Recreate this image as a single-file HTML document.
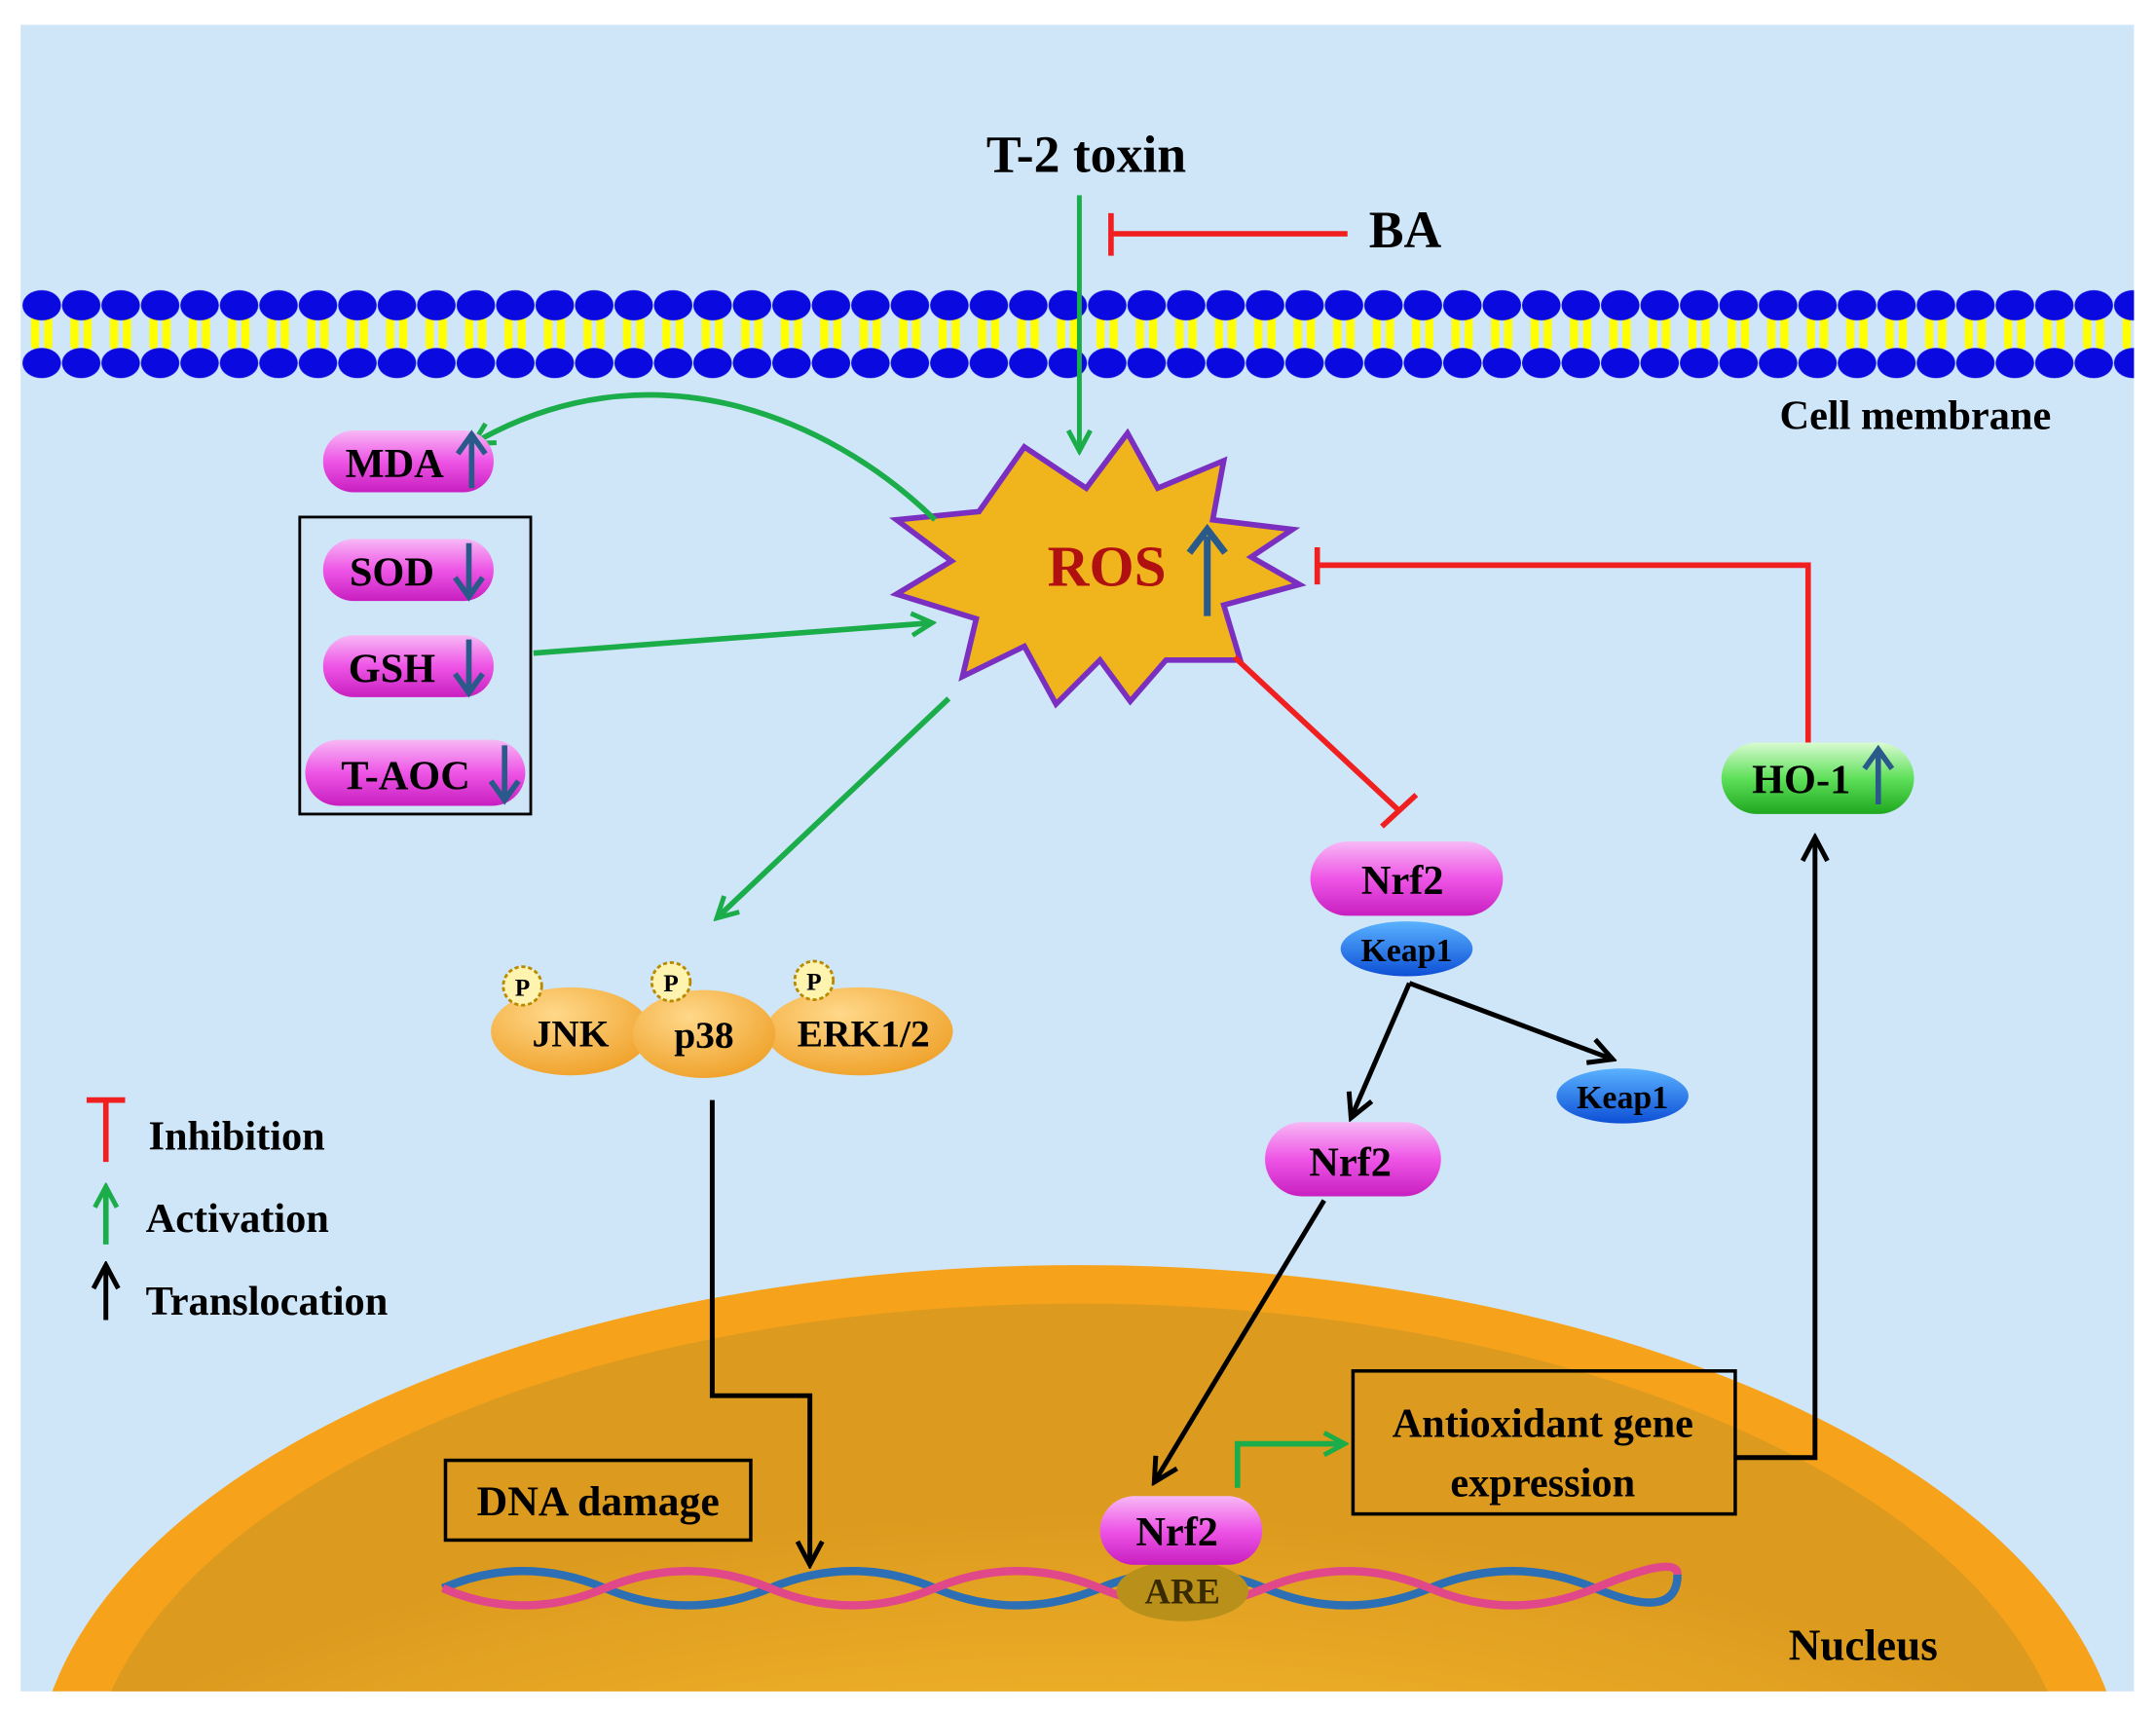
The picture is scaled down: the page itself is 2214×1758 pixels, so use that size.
<!DOCTYPE html>
<html><head><meta charset="utf-8"><style>
html,body{margin:0;padding:0;background:#fff;overflow:hidden;width:2214px;height:1758px;}
svg{display:block}
text{font-family:"Liberation Serif",serif;font-weight:bold;}
</style></head><body>
<svg width="2214" height="1758" viewBox="0 0 1568 1245" xmlns="http://www.w3.org/2000/svg">
<defs>
<linearGradient id="pk" x1="0" y1="0" x2="0" y2="1"><stop offset="0" stop-color="#f7b8f5"/><stop offset="0.5" stop-color="#ee55e6"/><stop offset="1" stop-color="#c81fc0"/></linearGradient>
<linearGradient id="gr" x1="0" y1="0" x2="0" y2="1"><stop offset="0" stop-color="#d8fbd0"/><stop offset="0.5" stop-color="#5fe05a"/><stop offset="1" stop-color="#1fa81f"/></linearGradient>
<linearGradient id="bl" x1="0" y1="0" x2="0" y2="1"><stop offset="0" stop-color="#5ab2ff"/><stop offset="1" stop-color="#0d4fd6"/></linearGradient>
<radialGradient id="or" cx="0.4" cy="0.3" r="0.8"><stop offset="0" stop-color="#ffd88a"/><stop offset="1" stop-color="#ee9d22"/></radialGradient>
<radialGradient id="nuc" cx="0.5" cy="0.9" r="0.7"><stop offset="0" stop-color="#ffd23c"/><stop offset="0.55" stop-color="#f5b82c"/><stop offset="1" stop-color="#dc9a1e"/></radialGradient>
<marker id="ag" markerWidth="20" markerHeight="20" refX="16" refY="10" orient="auto" markerUnits="userSpaceOnUse" viewBox="0 0 20 20"><path d="M2,2 L17,10 L2,18" fill="none" stroke="#1aad4a" stroke-width="3.5"/></marker>
<marker id="ak" markerWidth="22" markerHeight="22" refX="18" refY="11" orient="auto" markerUnits="userSpaceOnUse" viewBox="0 0 22 22"><path d="M2,2 L19,11 L2,20" fill="none" stroke="#000" stroke-width="3.5"/></marker>
<clipPath id="bg"><rect x="15" y="18" width="1537" height="1212"/></clipPath>
<pattern id="mp" x="16" y="0" width="28.7" height="300" patternUnits="userSpaceOnUse">
<rect x="6.5" y="230" width="6" height="24" rx="3" fill="#ffff00"/><rect x="16" y="230" width="6" height="24" rx="3" fill="#ffff00"/>
<ellipse cx="14.35" cy="222" rx="14" ry="11" fill="#0a0ae0"/><ellipse cx="14.35" cy="264" rx="14" ry="11" fill="#0a0ae0"/>
</pattern>
</defs>
<rect x="15" y="18" width="1537" height="1212" fill="#cfe5f8"/>
<g clip-path="url(#bg)">
<ellipse cx="785" cy="1300" rx="760" ry="380" fill="#f7a21b"/>
<ellipse cx="785" cy="1310" rx="722" ry="362" fill="url(#nuc)"/>
</g>
<rect x="16" y="208" width="1536" height="70" fill="url(#mp)"/>
<text x="1393" y="312" font-size="30" text-anchor="middle">Cell membrane</text>
<text x="790" y="125" font-size="38" text-anchor="middle">T-2 toxin</text>
<text x="1022" y="180" font-size="38" text-anchor="middle">BA</text>
<line x1="980" y1="170" x2="808" y2="170" stroke="#f02020" stroke-width="4"/>
<line x1="808" y1="155" x2="808" y2="186" stroke="#f02020" stroke-width="4"/>
<line x1="785" y1="142" x2="785" y2="327" stroke="#1aad4a" stroke-width="3.5" marker-end="url(#ag)"/>
<polygon points="745,325 790,355 820,315 842,355 890,335 882,378 940,385 910,405 945,425 890,440 902,480 848,480 822,510 800,480 768,512 745,470 700,492 710,450 652,432 692,408 652,378 712,372" fill="#f0b41c" stroke="#7a2fc0" stroke-width="4"/>
<text x="805" y="426" font-size="42" fill="#b01010" text-anchor="middle">ROS</text>
<line x1="878" y1="448" x2="878" y2="390" stroke="#2a5a8a" stroke-width="5"/><path d="M865,402 L878,385 L891,402" fill="none" stroke="#2a5a8a" stroke-width="5"/>
<polyline points="1315,540 1315,411 958,411" fill="none" stroke="#f02020" stroke-width="4"/>
<line x1="958" y1="398" x2="958" y2="425" stroke="#f02020" stroke-width="4"/>
<line x1="898" y1="478" x2="1018" y2="590" stroke="#f02020" stroke-width="4"/>
<line x1="1005" y1="601" x2="1030" y2="578" stroke="#f02020" stroke-width="4"/>
<path d="M680,378 C600,300 470,250 345,322" fill="none" stroke="#1aad4a" stroke-width="4" marker-end="url(#ag)"/>
<line x1="388" y1="475" x2="677" y2="453" stroke="#1aad4a" stroke-width="4" marker-end="url(#ag)"/>
<line x1="690" y1="508" x2="522" y2="667" stroke="#1aad4a" stroke-width="4" marker-end="url(#ag)"/>
<rect x="235" y="313" width="124" height="45" rx="22" fill="url(#pk)"/>
<text x="287" y="347" font-size="30" text-anchor="middle">MDA</text>
<rect x="218" y="376" width="168" height="216" fill="none" stroke="#000" stroke-width="2"/>
<rect x="235" y="392" width="124" height="45" rx="22" fill="url(#pk)"/>
<text x="285" y="426" font-size="30" text-anchor="middle">SOD</text>
<rect x="235" y="462" width="124" height="45" rx="22" fill="url(#pk)"/>
<text x="285" y="496" font-size="30" text-anchor="middle">GSH</text>
<rect x="222" y="538" width="160" height="48" rx="24" fill="url(#pk)"/>
<text x="295" y="574" font-size="30" text-anchor="middle">T-AOC</text>
<g stroke="#2a5a8a" stroke-width="4" fill="none">
<line x1="343" y1="355" x2="343" y2="318"/><path d="M333,330 L343,316 L353,330"/>
<line x1="341" y1="395" x2="341" y2="432"/><path d="M331,420 L341,434 L351,420"/>
<line x1="341" y1="465" x2="341" y2="502"/><path d="M331,490 L341,504 L351,490"/>
<line x1="367" y1="542" x2="367" y2="580"/><path d="M357,568 L367,582 L377,568"/>
</g>
<ellipse cx="415" cy="750" rx="58" ry="32" fill="url(#or)"/>
<ellipse cx="625" cy="750" rx="68" ry="32" fill="url(#or)"/>
<ellipse cx="512" cy="752" rx="52" ry="32" fill="url(#or)"/>
<text x="415" y="761" font-size="28" text-anchor="middle">JNK</text>
<text x="512" y="762" font-size="28" text-anchor="middle">p38</text>
<text x="628" y="761" font-size="28" text-anchor="middle">ERK1/2</text>
<g font-size="18"><circle cx="380" cy="717" r="14" fill="#fff3b0" stroke="#b88a00" stroke-width="2" stroke-dasharray="3 2"/><text x="380" y="724" text-anchor="middle" font-family="Liberation Sans">P</text>
<circle cx="488" cy="714" r="14" fill="#fff3b0" stroke="#b88a00" stroke-width="2" stroke-dasharray="3 2"/><text x="488" y="721" text-anchor="middle" font-family="Liberation Sans">P</text>
<circle cx="592" cy="713" r="14" fill="#fff3b0" stroke="#b88a00" stroke-width="2" stroke-dasharray="3 2"/><text x="592" y="720" text-anchor="middle" font-family="Liberation Sans">P</text></g>
<polyline points="518,800 518,1015 589,1015 589,1137" fill="none" stroke="#000" stroke-width="3.5" marker-end="url(#ak)"/>
<line x1="77" y1="800" x2="77" y2="845" stroke="#f02020" stroke-width="4"/><line x1="63" y1="800" x2="91" y2="800" stroke="#f02020" stroke-width="4"/>
<text x="108" y="836" font-size="30">Inhibition</text>
<line x1="77" y1="905" x2="77" y2="864" stroke="#1aad4a" stroke-width="4" marker-end="url(#ag)"/>
<text x="106" y="896" font-size="30">Activation</text>
<line x1="77" y1="960" x2="77" y2="921" stroke="#000" stroke-width="3.5" marker-end="url(#ak)"/>
<text x="106" y="956" font-size="30">Translocation</text>
<ellipse cx="1023" cy="690" rx="48" ry="20" fill="url(#bl)"/>
<text x="1023" y="699" font-size="24" text-anchor="middle">Keap1</text>
<rect x="953" y="612" width="140" height="54" rx="27" fill="url(#pk)"/>
<text x="1020" y="650" font-size="30" text-anchor="middle">Nrf2</text>
<line x1="1025" y1="715" x2="983" y2="812" stroke="#000" stroke-width="3.5" marker-end="url(#ak)"/>
<line x1="1025" y1="715" x2="1172" y2="770" stroke="#000" stroke-width="3.5" marker-end="url(#ak)"/>
<ellipse cx="1180" cy="797" rx="48" ry="20" fill="url(#bl)"/>
<text x="1180" y="806" font-size="24" text-anchor="middle">Keap1</text>
<rect x="920" y="816" width="128" height="54" rx="27" fill="url(#pk)"/>
<text x="982" y="855" font-size="30" text-anchor="middle">Nrf2</text>
<line x1="963" y1="873" x2="840" y2="1077" stroke="#000" stroke-width="3.5" marker-end="url(#ak)"/>
<rect x="1252" y="540" width="140" height="52" rx="26" fill="url(#gr)"/>
<text x="1310" y="577" font-size="30" text-anchor="middle">HO-1</text>
<line x1="1366" y1="585" x2="1366" y2="547" stroke="#2a5a8a" stroke-width="4"/><path d="M1356,559 L1366,545 L1376,559" fill="none" stroke="#2a5a8a" stroke-width="4"/>
<polyline points="1262,1060 1320,1060 1320,610" fill="none" stroke="#000" stroke-width="3.5" marker-end="url(#ak)"/>
<g stroke-width="6" fill="none">
<path d="M322,1155 Q380,1130 440,1155 T560,1155 T680,1155 T800,1155 T920,1155 T1040,1155 T1160,1155 T1220,1145" stroke="#2d6fb5"/>
<path d="M322,1155 Q380,1180 440,1155 T560,1155 T680,1155 T800,1155 T920,1155 T1040,1155 T1160,1155 T1220,1145" stroke="#e0488a"/>
</g>
<rect x="324" y="1062" width="222" height="58" fill="none" stroke="#000" stroke-width="2.5"/>
<text x="435" y="1102" font-size="31" text-anchor="middle">DNA damage</text>
<ellipse cx="860" cy="1157" rx="48" ry="22" fill="#b8901a"/>
<text x="860" y="1166" font-size="26" text-anchor="middle" fill="#3a2a00">ARE</text>
<rect x="800" y="1088" width="118" height="50" rx="25" fill="url(#pk)"/>
<text x="856" y="1124" font-size="30" text-anchor="middle">Nrf2</text>
<polyline points="900,1082 900,1050 977,1050" fill="none" stroke="#1aad4a" stroke-width="4" marker-end="url(#ag)"/>
<rect x="984" y="997" width="278" height="104" fill="none" stroke="#000" stroke-width="2.5"/>
<text x="1122" y="1045" font-size="30" text-anchor="middle">Antioxidant gene</text>
<text x="1122" y="1088" font-size="30" text-anchor="middle">expression</text>
<text x="1355" y="1207" font-size="32" text-anchor="middle">Nucleus</text>
</svg>
</body></html>
